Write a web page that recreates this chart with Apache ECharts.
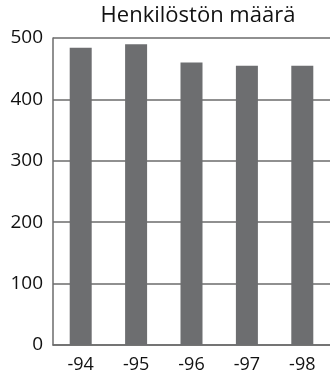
<!DOCTYPE html>
<html>
<head>
<meta charset="utf-8">
<script src="https://cdn.jsdelivr.net/npm/echarts@6/dist/echarts.min.js"></script>
<style>
  html, body { margin: 0; padding: 0; background: #fff; }
  #chart { width: 330px; height: 374px; }
</style>
</head>
<body>
<div id="chart"></div>
<script>
// Staff headcount by year
const years = ['-94', '-95', '-96', '-97', '-98'];
const headcount = [484, 490, 460, 455, 455];
const yTicks = { min: 0, max: 500, interval: 100 };
const titleText = 'Henkilöstön määrä';

const chart = echarts.init(document.getElementById('chart'), null, { renderer: 'canvas' });
chart.setOption({
  animation: false,
  textStyle: { fontFamily: 'Open Sans' },
  title: {
    text: titleText,
    left: 193,
    textAlign: 'center',
    top: 0,
    textStyle: { fontFamily: 'Open Sans', fontSize: 22, fontWeight: 'normal', color: '#111' }
  },
  grid: { left: 53, top: 38, width: 279, height: 309, containLabel: false },
  xAxis: {
    type: 'category',
    data: years,
    axisLine: { show: true, lineStyle: { color: '#6b6b6b', width: 1.5 } },
    axisTick: { show: false },
    axisLabel: { color: '#111', fontSize: 18, margin: 11, fontFamily: 'Open Sans' }
  },
  yAxis: {
    type: 'value',
    min: yTicks.min,
    max: yTicks.max,
    interval: yTicks.interval,
    axisLine: { show: true, lineStyle: { color: '#6b6b6b', width: 1.5 } },
    axisTick: { show: false },
    splitLine: { show: true, lineStyle: { color: '#6b6b6b', width: 1.5 } },
    axisLabel: { color: '#111', fontSize: 19, margin: 10, fontFamily: 'Open Sans' }
  },
  series: [{
    type: 'bar',
    data: headcount,
    barWidth: 22,
    itemStyle: { color: '#6d6e70' }
  }]
});
</script>
</body>
</html>
